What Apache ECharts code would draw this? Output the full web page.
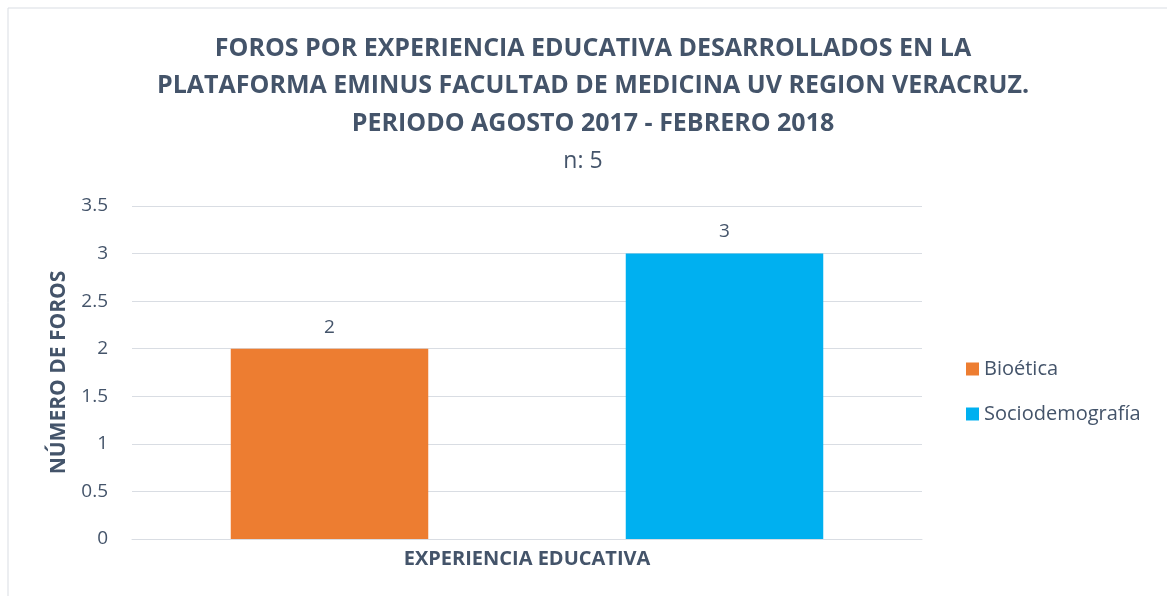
<!DOCTYPE html>
<html>
<head>
<meta charset="utf-8">
<script src="https://cdn.jsdelivr.net/npm/echarts@6/dist/echarts.min.js"></script>
<style>
  html, body { margin: 0; padding: 0; background: #fff; }
  #chart { width: 1167px; height: 596px; }
</style>
</head>
<body>
<div id="chart"></div>
<script>
var categories = ['EXPERIENCIA EDUCATIVA'];
var seriesNames = ['Bioética', 'Sociodemografía'];
var bioetica = [2];
var sociodemografia = [3];
var yTicks = [0, 0.5, 1, 1.5, 2, 2.5, 3, 3.5];

var txt = '#44546a';
var font = 'Open Sans';

var myChart = echarts.init(document.getElementById('chart'));

var labelOption = {
    show: true,
    position: 'top',
    distance: 12,
    color: txt,
    fontFamily: font,
    fontSize: 19
};

var option = {
    backgroundColor: '#fff',
    animation: false,
    graphic: [{
        type: 'rect',
        shape: { x: 8, y: 8, width: 1180, height: 600 },
        style: { fill: 'none', stroke: '#d9dde3', lineWidth: 1 }
    }],
    title: [{
        text: 'FOROS POR EXPERIENCIA EDUCATIVA DESARROLLADOS EN LA\nPLATAFORMA EMINUS FACULTAD DE MEDICINA UV REGION VERACRUZ.\nPERIODO AGOSTO 2017 - FEBRERO 2018',
        left: 588,
        top: 25,
        textAlign: 'center',
        textStyle: {
            color: txt,
            fontFamily: font,
            fontWeight: 'bold',
            fontSize: 25,
            lineHeight: 37.5
        }
    }, {
        text: 'n: 5',
        left: 578,
        top: 145,
        textAlign: 'center',
        textStyle: {
            color: txt,
            fontFamily: font,
            fontWeight: 'normal',
            fontSize: 23
        }
    }],
    legend: {
        orient: 'vertical',
        left: 961,
        top: 354,
        itemWidth: 13,
        itemHeight: 13,
        itemGap: 25,
        icon: 'rect',
        textStyle: { color: txt, fontFamily: font, fontSize: 20 },
        data: seriesNames
    },
    grid: { left: 132, right: 245, top: 206, bottom: 57 },
    xAxis: {
        type: 'category',
        data: categories,
        axisLine: { lineStyle: { color: '#d9dde3' } },
        axisTick: { show: false },
        axisLabel: {
            margin: 10,
            color: txt,
            fontFamily: font,
            fontWeight: 'bold',
            fontSize: 20
        }
    },
    yAxis: {
        type: 'value',
        min: 0,
        max: 3.5,
        interval: 0.5,
        name: 'NÚMERO DE FOROS',
        nameLocation: 'middle',
        nameGap: 62,
        nameTextStyle: {
            color: txt,
            fontFamily: font,
            fontWeight: 'bold',
            fontSize: 21
        },
        axisLine: { show: false },
        axisTick: { show: false },
        splitLine: { lineStyle: { color: '#d9dde3' } },
        axisLabel: {
            margin: 24,
            color: txt,
            fontFamily: font,
            fontSize: 19,
            formatter: function (v) { return yTicks.indexOf(v) >= 0 ? String(v) : ''; }
        }
    },
    series: [{
        name: seriesNames[0],
        type: 'bar',
        data: bioetica,
        itemStyle: { color: '#ed7d31' },
        barGap: '100%',
        barCategoryGap: '25%',
        label: labelOption
    }, {
        name: seriesNames[1],
        type: 'bar',
        data: sociodemografia,
        itemStyle: { color: '#00b0f0' },
        barGap: '100%',
        barCategoryGap: '25%',
        label: labelOption
    }]
};

myChart.setOption(option);
</script>
</body>
</html>
